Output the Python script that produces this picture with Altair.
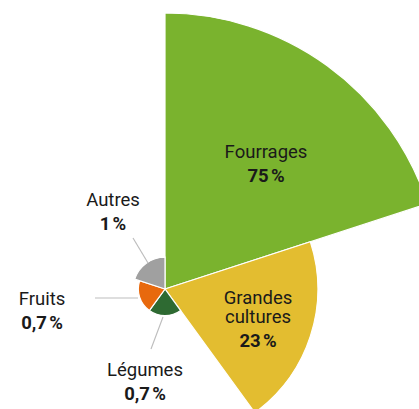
import altair as alt
import pandas as pd
import math

# data
categories = ["Fourrages", "Grandes cultures", "Légumes", "Fruits", "Autres"]
values = [75, 23, 0.7, 0.7, 1]
value_labels = ["75\u202f%", "23\u202f%", "0,7\u202f%", "0,7\u202f%", "1\u202f%"]
name_labels = ["Fourrages", "Grandes\ncultures", "Légumes", "Fruits", "Autres"]
colors = ["#7ab32e", "#e3bd30", "#2e6a32", "#e8690d", "#a0a0a0"]

# layout
CX, CY = 165, 289
RMAX = 276
name_pos = {  # center x, baseline of first line
    "Fourrages": (266, 158),
    "Grandes cultures": (258, 304),
    "Légumes": (145, 376),
    "Fruits": (42, 305),
    "Autres": (113, 206),
}
line_h = 19
value_gap = 23.5
leaders = [
    (133, 238, 148, 263),
    (95, 298, 138, 298),
    (151, 349, 163, 317),
]

n = len(categories)
wedges = pd.DataFrame({
    "cat": categories,
    "value": values,
    "t0": list(range(n)),
    "t1": [i + 1 for i in range(n)],
})

rows = []
for cat, nm, vl in zip(categories, name_labels, value_labels):
    x, y = name_pos[cat]
    nlines = nm.count("\n") + 1
    rows.append({"x": x, "y": y, "t": nm, "w": "normal"})
    rows.append({"x": x, "y": y + (nlines - 1) * line_h + value_gap, "t": vl, "w": "bold"})
texts = pd.DataFrame(rows)
lines = pd.DataFrame(leaders, columns=["x", "y", "x2", "y2"])

arcs = alt.Chart(wedges).mark_arc(stroke="white", strokeWidth=1.2).encode(
    theta=alt.Theta("t0:Q", scale=alt.Scale(domain=[0, n], range=[0, 2 * math.pi])),
    theta2="t1:Q",
    radius=alt.Radius("value:Q", scale=alt.Scale(type="sqrt", domain=[0, 75], range=[0, RMAX], zero=True)),
    color=alt.Color("cat:N", scale=alt.Scale(domain=categories, range=colors), legend=None),
    x=alt.value(CX),
    y=alt.value(CY),
)

rules = alt.Chart(lines).mark_rule(color="#bdbdbd", strokeWidth=1.2).encode(
    x=alt.X("x:Q", scale=None), y=alt.Y("y:Q", scale=None),
    x2="x2:Q", y2="y2:Q",
)

normal = alt.Chart(texts).transform_filter(alt.datum.w == "normal").mark_text(
    font="Roboto", fontSize=18.5, color="#1a1a1a", align="center", baseline="alphabetic",
    lineBreak="\n", lineHeight=line_h,
).encode(x=alt.X("x:Q", scale=None), y=alt.Y("y:Q", scale=None), text="t:N")

bold = alt.Chart(texts).transform_filter(alt.datum.w == "bold").mark_text(
    font="Roboto", fontSize=18.5, fontWeight="bold", color="#1a1a1a", align="center", baseline="alphabetic"
).encode(x=alt.X("x:Q", scale=None), y=alt.Y("y:Q", scale=None), text="t:N")

chart = alt.layer(arcs, rules, normal, bold).properties(
    width=419, height=409, padding=0, autosize=alt.AutoSizeParams(type="none")
).configure_view(stroke=None)

chart.save("out.html", embed_options={"renderer": "svg", "actions": False})
